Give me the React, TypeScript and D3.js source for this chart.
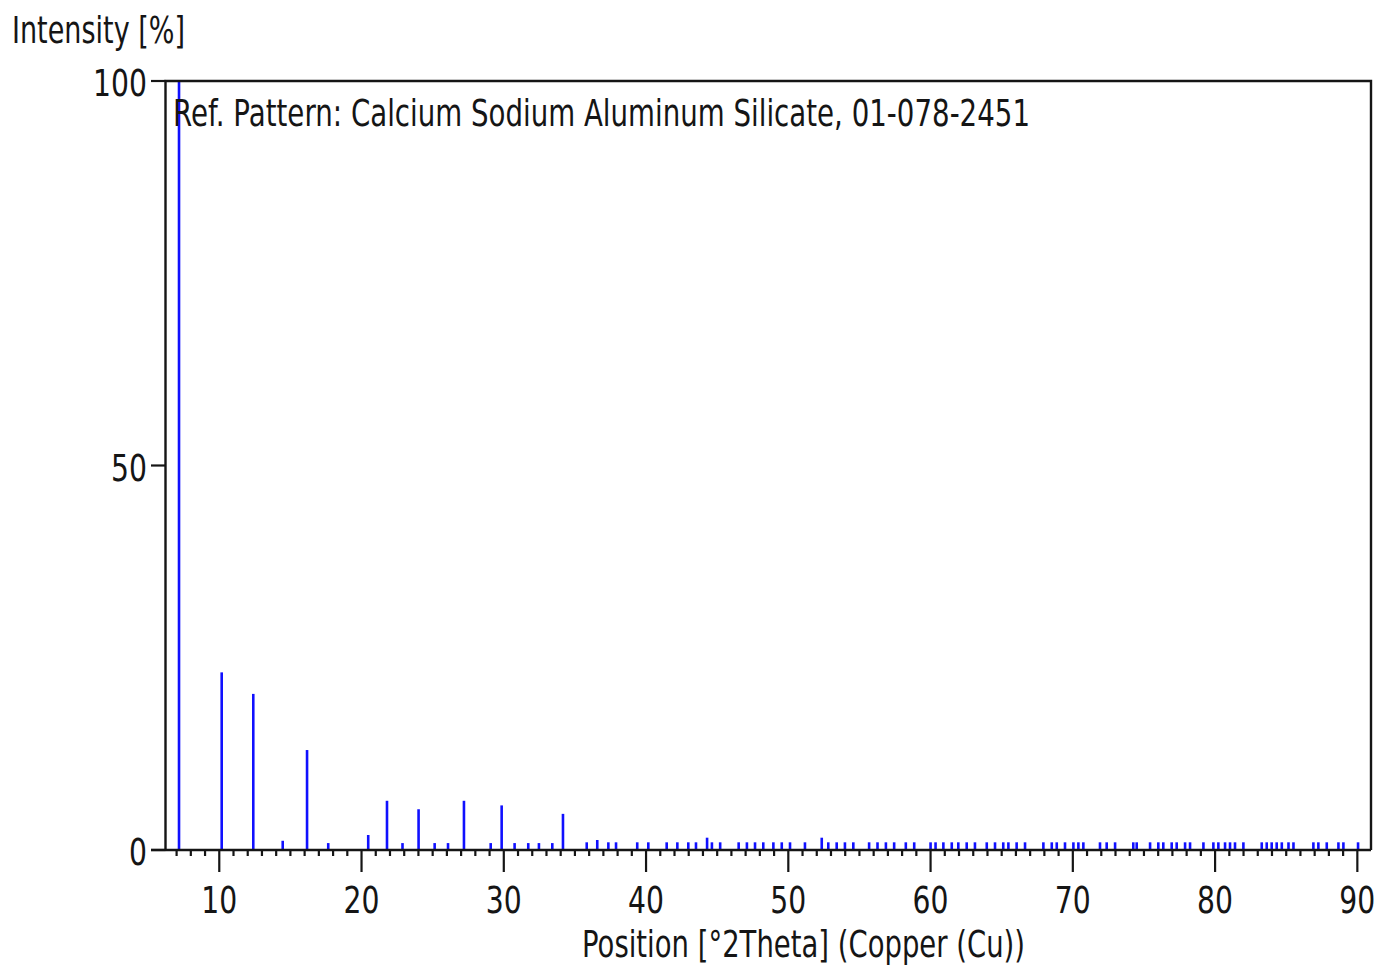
import React from "react";
import * as d3 from "d3";

// reference pattern 01-078-2451 (peak position in deg 2theta, relative intensity %)
const peakPositions = [
  7.17, 10.17, 12.39, 14.46, 16.17, 17.66, 20.47, 21.79, 22.88, 24.01,
  25.14, 26.08, 27.2, 29.08, 29.85, 30.76, 31.72, 32.47, 33.41, 34.16,
  35.83, 36.57, 37.35, 37.89, 39.38, 40.16, 41.45, 42.2, 42.97, 43.51,
  44.29, 44.63, 45.21, 46.51, 47.09, 47.66, 48.24, 48.95, 49.54, 50.12,
  51.17, 52.35, 52.81, 53.4, 53.98, 54.57, 55.68, 56.27, 56.86, 57.44,
  58.26, 58.85, 60.0, 60.35, 60.9, 61.49, 61.95, 62.54, 63.12, 63.95,
  64.53, 65.11, 65.47, 66.05, 66.64, 67.93, 68.52, 68.87, 69.45, 70.04,
  70.39, 70.74, 71.91, 72.38, 72.97, 74.25, 74.49, 75.43, 76.01, 76.36,
  76.95, 77.3, 77.89, 78.24, 79.18, 79.88, 80.23, 80.7, 81.05, 81.4,
  81.99, 83.28, 83.63, 83.98, 84.33, 84.69, 85.16, 85.51, 86.91, 87.26,
  87.85, 88.67, 89.02, 90.05,
];
const peakIntensities = [
  100, 23.1, 20.3, 1.2, 13.0, 0.9, 1.95, 6.4, 0.9, 5.3,
  0.9, 0.9, 6.4, 0.9, 5.8, 0.9, 0.9, 0.9, 0.9, 4.7,
  1.0, 1.3, 1.0, 1.0, 1.0, 1.0, 1.0, 1.0, 1.0, 1.0,
  1.6, 1.0, 1.0, 1.0, 1.0, 1.0, 1.0, 1.0, 1.0, 1.0,
  1.0, 1.6, 1.0, 1.0, 1.0, 1.0, 1.0, 1.0, 1.0, 1.0,
  1.0, 1.0, 1.0, 1.0, 1.0, 1.0, 1.0, 1.0, 1.0, 1.0,
  1.0, 1.0, 1.0, 1.0, 1.0, 1.0, 1.0, 1.0, 1.0, 1.0,
  1.0, 1.0, 1.0, 1.0, 1.0, 1.0, 1.0, 1.0, 1.0, 1.0,
  1.0, 1.0, 1.0, 1.0, 1.0, 1.0, 1.0, 1.0, 1.0, 1.0,
  1.0, 1.0, 1.0, 1.0, 1.0, 1.0, 1.0, 1.0, 1.0, 1.0,
  1.0, 1.0, 1.0, 1.0,
];
const xMajorTicks = [10, 20, 30, 40, 50, 60, 70, 80, 90];
const yTicks = [0, 50, 100];

const chartTitle = "Ref. Pattern: Calcium Sodium Aluminum Silicate, 01-078-2451";
const xTitle = "Position [°2Theta] (Copper (Cu))";
const yTitle = "Intensity [%]";

const W = 1380;
const H = 973;
const plot = { left: 165.5, right: 1371, top: 81, bottom: 850 };
const font = "'DejaVu Sans', Verdana, sans-serif";
const ink = "#151515";
// the tick digits are narrow in the original, squeeze them horizontally
const squeeze = 0.744;

export default function App() {
  const x = d3.scaleLinear().domain([6.22, 90.96]).range([plot.left, plot.right]);
  const y = d3.scaleLinear().domain([0, 100]).range([plot.bottom, plot.top]);

  // minor ticks every 1 deg
  const minorTicks = d3.range(7, 91).filter((t) => t % 10 !== 0);

  const peaks = peakPositions.map((p, i) => ({ pos: p, val: peakIntensities[i] }));

  return (
    <svg
      width={W}
      height={H}
      style={{ position: "absolute", left: 0, top: 0, background: "#fff" }}
    >
      {/* y title */}
      <text x={12} y={43} fontFamily={font} fontSize={38} fill={ink}
        textLength={173} lengthAdjust="spacingAndGlyphs">
        {yTitle}
      </text>

      {/* peaks */}
      <g stroke="#1010ff" strokeWidth={2.6}>
        {peaks.map((d, i) => (
          <line key={i} x1={x(d.pos)} x2={x(d.pos)} y1={y(0)} y2={y(d.val)} />
        ))}
      </g>

      {/* frame */}
      <path
        d={`M${plot.left},${plot.bottom} V${plot.top} H${plot.right} V${plot.bottom}`}
        fill="none" stroke={ink} strokeWidth={2.4}
      />
      <line x1={151} x2={plot.right} y1={plot.bottom} y2={plot.bottom} stroke={ink} strokeWidth={2.4} />

      {/* y ticks */}
      {yTicks.map((t) => (
        <g key={t}>
          <line x1={151} x2={plot.left} y1={y(t)} y2={y(t)} stroke={ink} strokeWidth={2.2} />
          <text transform={`translate(147,${y(t) + 15}) scale(${squeeze},1)`} textAnchor="end"
            fontFamily={font} fontSize={38} fill={ink}>
            {t}
          </text>
        </g>
      ))}

      {/* x ticks */}
      {minorTicks.map((t) => (
        <line key={t} x1={x(t)} x2={x(t)} y1={plot.bottom} y2={plot.bottom + 6}
          stroke={ink} strokeWidth={2.2} />
      ))}
      {xMajorTicks.map((t) => (
        <g key={t}>
          <line x1={x(t)} x2={x(t)} y1={plot.bottom} y2={plot.bottom + 22} stroke={ink} strokeWidth={2.2} />
          <text transform={`translate(${x(t)},913) scale(${squeeze},1)`} textAnchor="middle"
            fontFamily={font} fontSize={38} fill={ink}>
            {t}
          </text>
        </g>
      ))}

      {/* x title */}
      <text x={582} y={957} fontFamily={font} fontSize={38} fill={ink}
        textLength={443} lengthAdjust="spacingAndGlyphs">
        {xTitle}
      </text>

      {/* pattern title */}
      <text x={173} y={126} fontFamily={font} fontSize={38} fill={ink}
        textLength={857} lengthAdjust="spacingAndGlyphs">
        {chartTitle}
      </text>
    </svg>
  );
}
